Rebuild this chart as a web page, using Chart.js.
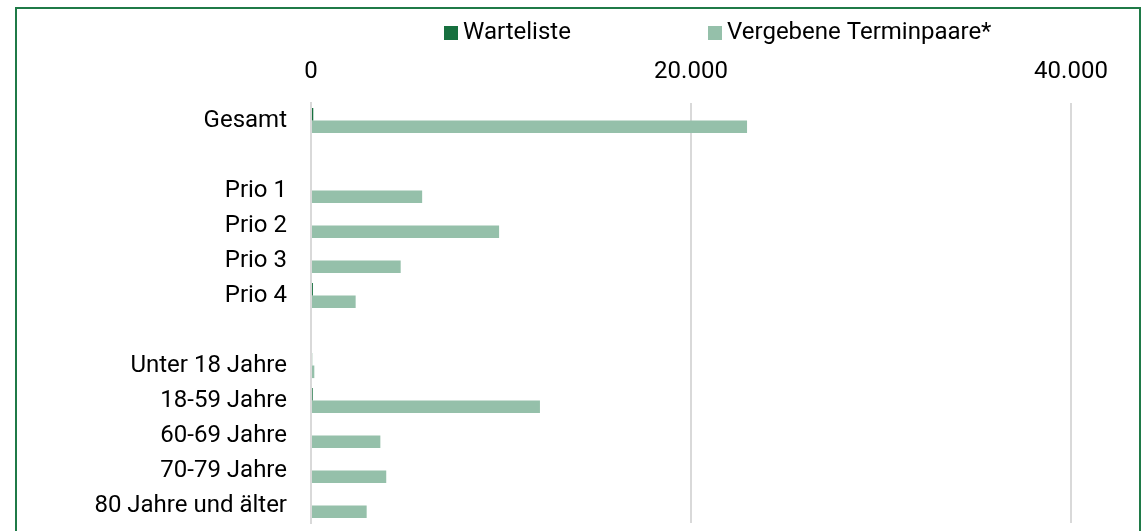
<!DOCTYPE html>
<html><head><meta charset="utf-8">
<script src="https://cdn.jsdelivr.net/npm/chart.js@4"></script>
<style>
html,body{margin:0;padding:0;background:#fff;}
#wrap{position:relative;width:1147px;height:531px;overflow:hidden;background:#fff;}
#frame{position:absolute;left:15px;top:7px;width:1126px;height:600px;border:2px solid #1f7a47;box-sizing:border-box;}
canvas{position:absolute;left:0;top:0;}
</style></head>
<body><div id="wrap"><div id="frame"></div><canvas id="c" width="1147" height="531"></canvas></div>
<script>
const categories = ['Gesamt', '', 'Prio 1', 'Prio 2', 'Prio 3', 'Prio 4', '', 'Unter 18 Jahre', '18-59 Jahre', '60-69 Jahre', '70-79 Jahre', '80 Jahre und älter'];
const warteliste = [120, null, 0, 0, 0, 100, null, 60, 90, 0, 0, 0];
const vergebene = [22950, null, 5850, 9900, 4720, 2350, null, 175, 12050, 3650, 3960, 2930];
const seriesNames = ['Warteliste', 'Vergebene Terminpaare*'];
const tickValues = [0, 20000, 40000];

const FONT = {family: 'Roboto', size: 24};
const fmt = v => String(v).replace(/\B(?=(\d{3})+(?!\d))/g, '.');

const legendPlugin = {
  id: 'customLegend',
  afterDraw(chart) {
    const ctx = chart.ctx;
    const items = [{x: 444, tx: 463}, {x: 708, tx: 727}];
    ctx.save();
    ctx.font = FONT.size + 'px ' + FONT.family;
    ctx.textBaseline = 'middle';
    chart.data.datasets.forEach((ds, i) => {
      ctx.fillStyle = ds.backgroundColor;
      ctx.fillRect(items[i].x, 26, 14, 14);
      ctx.fillStyle = '#000';
      ctx.fillText(ds.label, items[i].tx, 33);
    });
    ctx.restore();
  }
};

new Chart(document.getElementById('c'), {
  type: 'bar',
  data: {
    labels: categories,
    datasets: [
      {label: seriesNames[0], data: warteliste, backgroundColor: '#17703f'},
      {label: seriesNames[1], data: vergebene, backgroundColor: '#95c0aa'}
    ]
  },
  options: {
    indexAxis: 'y',
    responsive: false,
    devicePixelRatio: 1,
    animation: false,
    layout: {padding: {left: 0, top: 0, right: 76, bottom: 8}},
    datasets: {bar: {categoryPercentage: 0.72, barPercentage: 1.0}},
    plugins: {legend: {display: false}, tooltip: {enabled: false}},
    scales: {
      x: {
        position: 'top',
        min: 0, max: 40000,
        afterBuildTicks: s => { s.ticks = tickValues.map(v => ({value: v})); },
        afterFit: s => { s.height = 103; s.paddingLeft = 0; s.paddingRight = 0; },
        ticks: {font: FONT, color: '#000', padding: 17, callback: v => fmt(v)},
        grid: {color: '#d9d9d9', lineWidth: 2, drawTicks: false},
        border: {display: false}
      },
      y: {
        afterFit: s => { s.width = 311; s.paddingTop = 0; s.paddingBottom = 0; },
        ticks: {font: FONT, color: '#000', padding: 24},
        grid: {display: false, drawTicks: false},
        border: {display: true, color: '#d9d9d9', width: 2}
      }
    }
  },
  plugins: [legendPlugin]
});
</script>
</body></html>
